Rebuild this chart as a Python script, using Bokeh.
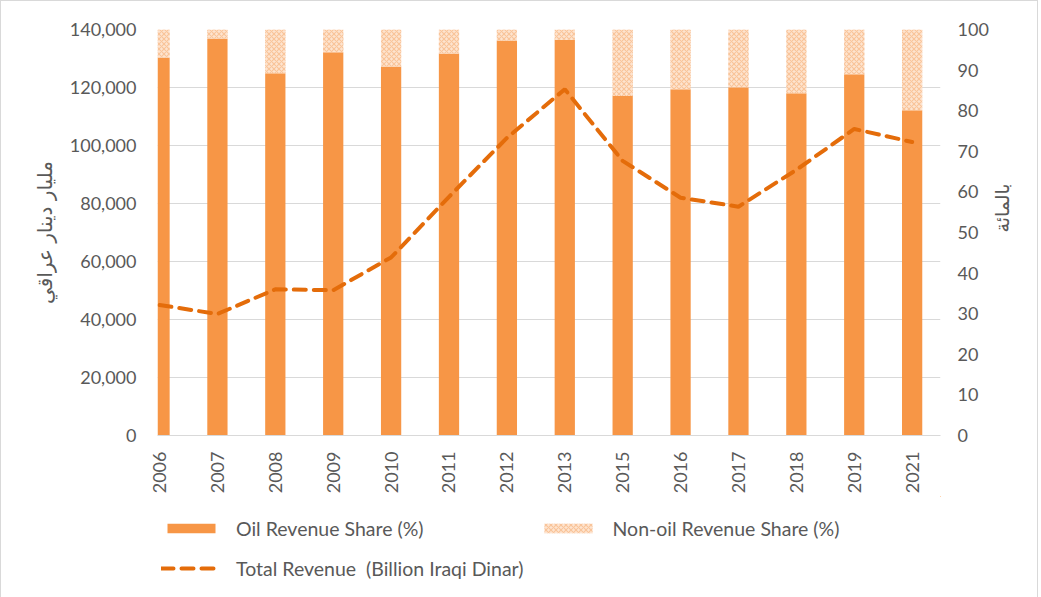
from math import pi
from bokeh.plotting import figure
from bokeh.layouts import column
from bokeh.models import (Range1d, LinearAxis, FixedTicker, NumeralTickFormatter,
                          Legend, LegendItem, ColumnDataSource)
from bokeh.embed import file_html
from bokeh.resources import INLINE

# ---- data ----
years = ["2006", "2007", "2008", "2009", "2010", "2011", "2012", "2013",
         "2015", "2016", "2017", "2018", "2019", "2021"]
oil_share = [93.1, 97.8, 89.2, 94.4, 90.9, 94.1, 97.3, 97.5,
             83.6, 85.3, 85.8, 84.3, 89.0, 80.1]
non_oil_share = [round(100 - v, 1) for v in oil_share]
total_revenue = [45000, 41900, 50400, 50100, 61400, 82300, 102600, 119400,
                 94700, 82000, 78900, 91600, 105700, 101200]

xs = list(range(len(years)))
src = ColumnDataSource(dict(x=xs, oil=oil_share, non=non_oil_share,
                            top2=[o + n for o, n in zip(oil_share, non_oil_share)],
                            rev=total_revenue))

TXT = "#595959"
GRID = "#d9d9d9"
FONT = "Lato"
OIL = dict(fill_color="#F79646", line_color=None)
NON = dict(fill_color="#fde4d0", line_color=None, hatch_pattern="diagonal_cross",
           hatch_color="#f9c49a", hatch_scale=5, hatch_weight=1.2)
LINE = dict(line_color="#E46C0A", line_width=4, line_dash="12 8", line_cap="round")

W = 1036
p = figure(width=W, height=495, output_backend="svg", toolbar_location=None,
           x_range=Range1d(-0.035, 13.49), y_range=Range1d(0, 140000))
p.min_border_left = 156
p.min_border_right = 97
p.min_border_top = 28
p.min_border_bottom = 59
p.outline_line_color = None
p.background_fill_color = "white"
p.border_fill_color = "white"

p.extra_y_ranges = {"pct": Range1d(0, 100)}

# bars (secondary axis)
oil_r = p.vbar(x="x", bottom=0, top="oil", width=0.35, source=src, y_range_name="pct", **OIL)
non_r = p.vbar(x="x", bottom="oil", top="top2", width=0.35, source=src, y_range_name="pct", **NON)
# line (primary axis)
line_r = p.line(x="x", y="rev", source=src, **LINE)

def style_axis(ax):
    ax.major_tick_line_color = None
    ax.minor_tick_line_color = None
    ax.major_label_text_color = TXT
    ax.major_label_text_font = FONT
    ax.major_label_text_font_size = "18px"
    ax.axis_label_text_color = TXT
    ax.axis_label_text_font_style = "normal"

yl = p.yaxis[0]
style_axis(yl)
yl.ticker = FixedTicker(ticks=list(range(0, 140001, 20000)))
yl.formatter = NumeralTickFormatter(format="0,0")
yl.axis_line_color = None
yl.major_label_standoff = 15
yl.axis_label = "مليار دينار عراقي"
yl.axis_label_text_font = "DejaVu Sans"
yl.axis_label_text_font_size = "20px"
yl.axis_label_standoff = 10

yr = LinearAxis(y_range_name="pct", ticker=FixedTicker(ticks=list(range(0, 101, 10))))
style_axis(yr)
yr.axis_line_color = None
yr.major_label_standoff = 11
yr.axis_label = "بالمائة"
yr.axis_label_text_font = "DejaVu Sans"
yr.axis_label_text_font_size = "19px"
yr.axis_label_standoff = 10
yr.axis_label_orientation = pi / 2
p.add_layout(yr, "right")

xa = p.xaxis[0]
style_axis(xa)
xa.ticker = FixedTicker(ticks=xs)
xa.major_label_overrides = {i: y for i, y in enumerate(years)}
xa.major_label_orientation = pi / 2
xa.axis_line_color = GRID
xa.major_label_standoff = 10

p.xgrid.grid_line_color = None
p.ygrid.grid_line_color = GRID
p.ygrid.ticker = FixedTicker(ticks=list(range(0, 140001, 20000)))

# ---- legend strip below the chart (its view range lies away from the data) ----
lf = figure(width=W, height=101, output_backend="svg", toolbar_location=None,
            x_range=Range1d(-100, -99), y_range=Range1d(-100, -99),
            x_axis_location=None, y_axis_location=None)
lf.min_border_left = lf.min_border_right = lf.min_border_top = lf.min_border_bottom = 0
lf.outline_line_color = None
lf.xgrid.grid_line_color = None
lf.ygrid.grid_line_color = None
l_oil = lf.vbar(x="x", top="oil", width=0.35, source=src, **OIL)
l_non = lf.vbar(x="x", bottom="oil", top="top2", width=0.35, source=src, **NON)
l_line = lf.line(x="x", y="rev", source=src, **LINE)

lg = Legend(items=[LegendItem(label="Oil Revenue Share (%)", renderers=[l_oil]),
                   LegendItem(label="Non-oil Revenue Share (%)", renderers=[l_non]),
                   LegendItem(label="Total Revenue  (Billion Iraqi Dinar)", renderers=[l_line])],
            orientation="horizontal", ncols=2, location=(4, 16), spacing=14)
lg.padding = 0
lg.margin = 0
lg.border_line_color = None
lg.background_fill_alpha = 0
lg.label_text_font = FONT
lg.label_text_font_size = "19.5px"
lg.label_text_color = TXT
lg.glyph_width = 60
lg.glyph_height = 12
lg.label_standoff = 15
lg.label_height = 26
lf.add_layout(lg)

layout = column(p, lf)
layout.styles = {"border": "1px solid #d9d9d9"}

open("out.html", "w").write(file_html(layout, INLINE))
